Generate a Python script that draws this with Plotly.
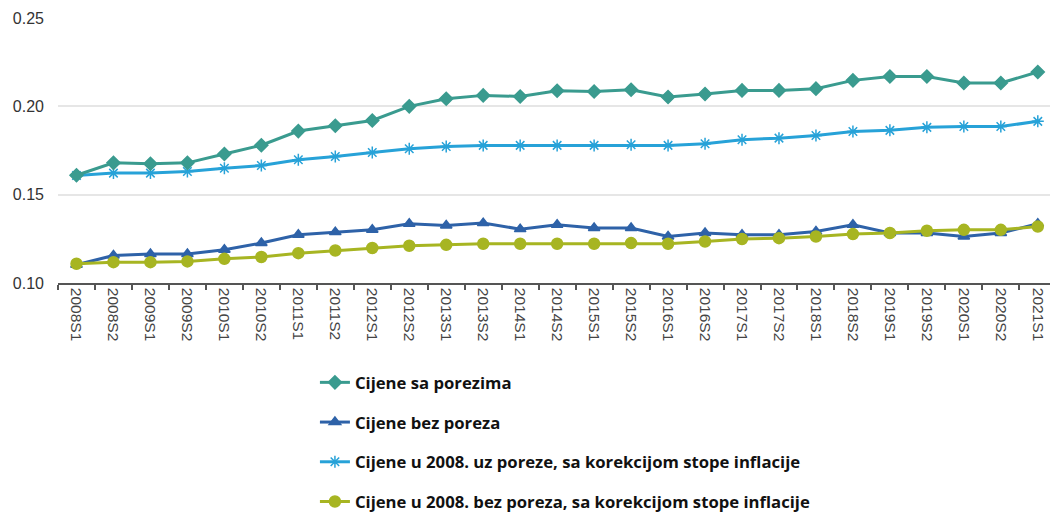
import plotly.graph_objects as go

categories = ["2008S1", "2008S2", "2009S1", "2009S2", "2010S1", "2010S2", "2011S1", "2011S2",
              "2012S1", "2012S2", "2013S1", "2013S2", "2014S1", "2014S2", "2015S1", "2015S2",
              "2016S1", "2016S2", "2017S1", "2017S2", "2018S1", "2018S2", "2019S1", "2019S2",
              "2020S1", "2020S2", "2021S1"]

sa_porezima = [0.161, 0.168, 0.1675, 0.168, 0.173, 0.178, 0.186, 0.189,
               0.192, 0.200, 0.2043, 0.2062, 0.2056, 0.2088, 0.2084, 0.2094,
               0.2053, 0.2070, 0.2090, 0.2090, 0.2100, 0.2147, 0.2169, 0.2169,
               0.2132, 0.2132, 0.2194]

bez_poreza = [0.1103, 0.1156, 0.1164, 0.1164, 0.1188, 0.1226, 0.1273, 0.1288,
              0.1301, 0.1335, 0.1326, 0.1339, 0.1305, 0.1330, 0.1311, 0.1311,
              0.1263, 0.1283, 0.1273, 0.1273, 0.1292, 0.1330, 0.1283, 0.1283,
              0.1263, 0.1283, 0.1335]

uz_poreze_infl = [0.1609, 0.1622, 0.1622, 0.1631, 0.1650, 0.1665, 0.1698, 0.1716,
                  0.1739, 0.1760, 0.1773, 0.1779, 0.1779, 0.1779, 0.1779, 0.1783,
                  0.1779, 0.1788, 0.1811, 0.1820, 0.1835, 0.1858, 0.1864, 0.1881,
                  0.1886, 0.1886, 0.1915]

bez_poreza_infl = [0.1109, 0.1118, 0.1118, 0.1122, 0.1137, 0.1147, 0.1169, 0.1184,
                   0.1198, 0.1211, 0.1216, 0.1222, 0.1222, 0.1222, 0.1222, 0.1226,
                   0.1222, 0.1235, 0.1249, 0.1254, 0.1263, 0.1277, 0.1283, 0.1296,
                   0.1301, 0.1301, 0.1320]

names = ["Cijene sa porezima",
         "Cijene bez poreza",
         "Cijene u 2008. uz poreze, sa korekcijom stope inflacije",
         "Cijene u 2008. bez poreza, sa korekcijom stope inflacije"]

colors = ["#3a9b8f", "#2e62a8", "#27a2d8", "#a7b522"]
symbols = ["diamond", "triangle-up", "asterisk-open", "circle"]
sizes = [10, 10, 10, 11]

series = [sa_porezima, bez_poreza, uz_poreze_infl, bez_poreza_infl]

fig = go.Figure()
for i in [2, 0, 1, 3]:
    fig.add_trace(go.Scatter(
        x=categories, y=series[i], name=names[i], mode="lines+markers",
        line=dict(color=colors[i], width=3),
        marker=dict(symbol=symbols[i], size=sizes[i], color=colors[i],
                    line=dict(color=colors[i], width=1.5)),
        legendgroup=str(i), legendrank=i + 1, cliponaxis=False,
    ))

LEGEND_TOP_PX = 365
fig.update_layout(
    width=1050, height=512,
    margin=dict(l=58, r=0, t=18, b=229),
    paper_bgcolor="white", plot_bgcolor="white",
    font=dict(family="Liberation Sans, Arial, sans-serif", color="#444"),
    showlegend=True,
    legend=dict(
        xref="paper", yref="container",
        x=0.259, y=1 - LEGEND_TOP_PX / 512, xanchor="left", yanchor="top",
        orientation="v", tracegroupgap=15, itemwidth=30,
        font=dict(family="Open Sans, sans-serif", size=16.7, color="#111", weight="bold"),
        bgcolor="rgba(0,0,0,0)",
    ),
    xaxis=dict(
        type="category", range=[-0.5, 26.33], automargin=False,
        tickson="boundaries", ticks="outside", ticklen=5, tickcolor="#555", tickwidth=1.5,
        showline=True, linecolor="#555", linewidth=1.5,
        showgrid=False, tickangle=90,
        tickfont=dict(size=15.5, color="#444"),
    ),
    yaxis=dict(
        range=[0.10, 0.25], dtick=0.05, tickformat=".2f", automargin=False,
        showgrid=True, gridcolor="#e6e6e6", gridwidth=1.5,
        zeroline=False, showline=False,
        tickfont=dict(size=16, color="#333"),
        ticklabelstandoff=13,
    ),
)

fig.write_html(
    "out.html",
    config={"responsive": False, "displayModeBar": False},
    post_script="document.body.style.margin='0';document.body.style.overflow='hidden';",
)
